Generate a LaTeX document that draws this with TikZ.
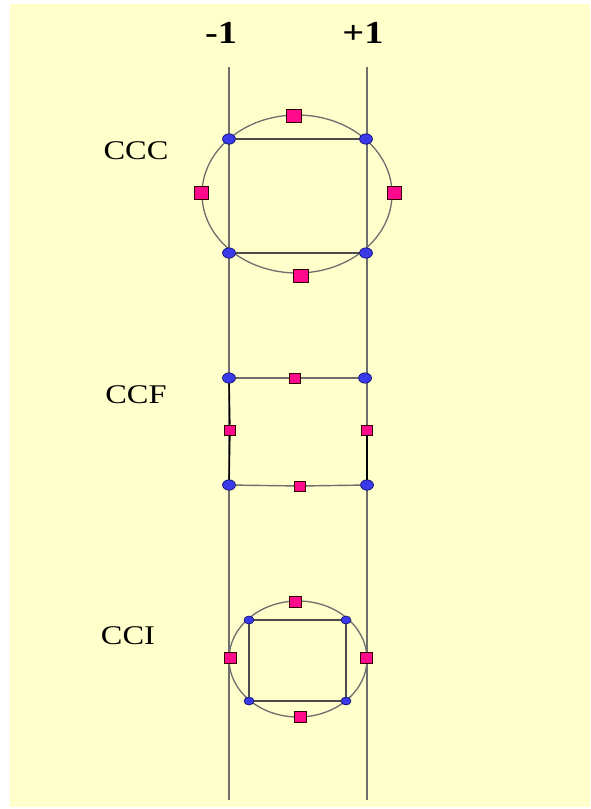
\documentclass[tikz,border=0pt]{standalone}
\usepackage{fontspec}
\setmainfont{Liberation Serif}
\usetikzlibrary{shapes.geometric}
\definecolor{bgyel}{HTML}{FFFFCC}
\definecolor{vblue}{HTML}{3A3AE8}
\definecolor{vmag}{HTML}{FF0A8C}
\definecolor{lgray}{HTML}{6E6E6E}
\begin{document}
\begin{tikzpicture}[x=1pt,y=-1pt,
  vline/.style={draw=lgray,line width=1.7pt},
  edge/.style={draw=black!70,line width=1.4pt},
  ring/.style={draw=lgray,line width=1.3pt},
  bdot/.style={ellipse,fill=vblue,draw=blue!40!black,line width=0.6pt,inner sep=0pt,minimum width=#1,minimum height=0.8*#1},
  msq/.style={rectangle,fill=vmag,draw=black!80!red,line width=0.8pt,inner sep=0pt,minimum width=#1,minimum height=0.9*#1},
  lab/.style={font=\fontsize{27}{27}\selectfont,anchor=center,xscale=1.2},
  axlab/.style={font=\fontsize{32}{32}\selectfont\bfseries,anchor=center,xscale=1.2}]
\fill[white] (0,0) rectangle (590,809);
\fill[bgyel] (10,4) rectangle (590,807);
% axis labels
\node[axlab] (lm) at (221,33) {-1};
\node[axlab] (lp) at (363,33) {+1};
% vertical lines
\coordinate (lt) at (229,67); \coordinate (lb) at (229,800);
\coordinate (rt) at (367,67); \coordinate (rb) at (367,800);
\draw[vline] (lt) -- (lb);
\draw[vline] (rt) -- (rb);
% CCC
\node[lab] (ccc) at (136,151) {CCC};
\draw[ring] (297,194) ellipse [x radius=95, y radius=79];
\node[bdot=13pt] (c1) at (229,139) {};
\node[bdot=13pt] (c2) at (366,139) {};
\node[bdot=13pt] (c3) at (229,253) {};
\node[bdot=13pt] (c4) at (366,253) {};
\draw[edge] (c1) -- (c2) (c3) -- (c4);
\node[msq=15pt] (cm1) at (294,116) {};
\node[msq=14pt] (cm2) at (201,193) {};
\node[msq=14pt] (cm3) at (394,193) {};
\node[msq=15pt] (cm4) at (301,276) {};
% CCF
\node[lab] (ccf) at (136,395) {CCF};
\node[bdot=13pt] (f1) at (229,378) {};
\node[bdot=13pt] (f2) at (365,378) {};
\node[bdot=13pt] (f3) at (229,485) {};
\node[bdot=13pt] (f4) at (367,485) {};
\node[msq=11pt] (fm1) at (295,378) {};
\node[msq=11pt] (fm2) at (230,430) {};
\node[msq=11pt] (fm3) at (367,430) {};
\node[msq=11pt] (fm4) at (300,486) {};
\draw[edge,draw=lgray] (f1) -- (fm1) -- (f2);
\draw[edge,draw=lgray] (f3) -- (fm4) -- (f4);
\draw[edge,draw=black] (f1) -- (fm2) -- (f3);
\draw[edge,draw=black] (fm3) -- (f4);
% CCI
\node[lab] (cci) at (128,636) {CCI};
\draw[ring] (298,659) ellipse [x radius=69, y radius=58];
\node[bdot=10pt] (i1) at (249,620) {};
\node[bdot=10pt] (i2) at (346,620) {};
\node[bdot=10pt] (i3) at (249,701) {};
\node[bdot=10pt] (i4) at (346,701) {};
\draw[edge] (i1) -- (i2) -- (i4) -- (i3) -- (i1);
\node[msq=12pt] (im1) at (295,602) {};
\node[msq=12pt] (im2) at (230,658) {};
\node[msq=12pt] (im3) at (366,658) {};
\node[msq=12pt] (im4) at (300,717) {};
\end{tikzpicture}
\end{document}
